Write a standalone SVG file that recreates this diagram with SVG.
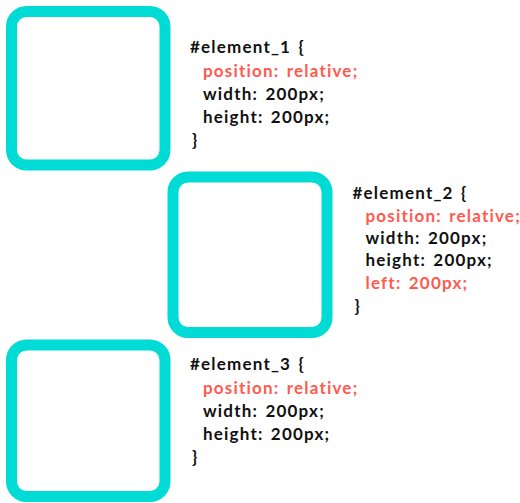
<svg xmlns="http://www.w3.org/2000/svg" width="520" height="503" viewBox="0 0 520 503">
<style>
.box{fill:#fff;stroke:#00dbd5;stroke-width:11}
text{font-family:Lato,"Liberation Sans",sans-serif;font-weight:bold;font-size:17px;letter-spacing:1.2px;word-spacing:2px;fill:#111}
.r{fill:#ff5a4f}
</style>
<rect width="520" height="503" fill="#fff"/>
<g id="element_1">
<rect class="box" x="11.5" y="11.5" width="153.5" height="153.5" rx="15"/>
<text x="190" y="53">#element_1 {</text>
<text class="r" x="203" y="77">position: relative;</text>
<text x="203" y="100">width: 200px;</text>
<text x="203" y="123">height: 200px;</text>
<text x="192" y="146">}</text>
</g>
<g id="element_2">
<rect class="box" x="173" y="177" width="154" height="155.5" rx="15"/>
<text x="352.5" y="198.5">#element_2 {</text>
<text class="r" x="365.5" y="222">position: relative;</text>
<text x="365.5" y="244">width: 200px;</text>
<text x="365.5" y="266">height: 200px;</text>
<text class="r" x="365.5" y="289">left: 200px;</text>
<text x="354.5" y="312">}</text>
</g>
<g id="element_3">
<rect class="box" x="11.5" y="345" width="153.5" height="151.5" rx="15"/>
<text x="190" y="370">#element_3 {</text>
<text class="r" x="203" y="393.5">position: relative;</text>
<text x="203" y="416.5">width: 200px;</text>
<text x="203" y="440">height: 200px;</text>
<text x="192" y="463">}</text>
</g>
<g id="connectors"></g>
</svg>
